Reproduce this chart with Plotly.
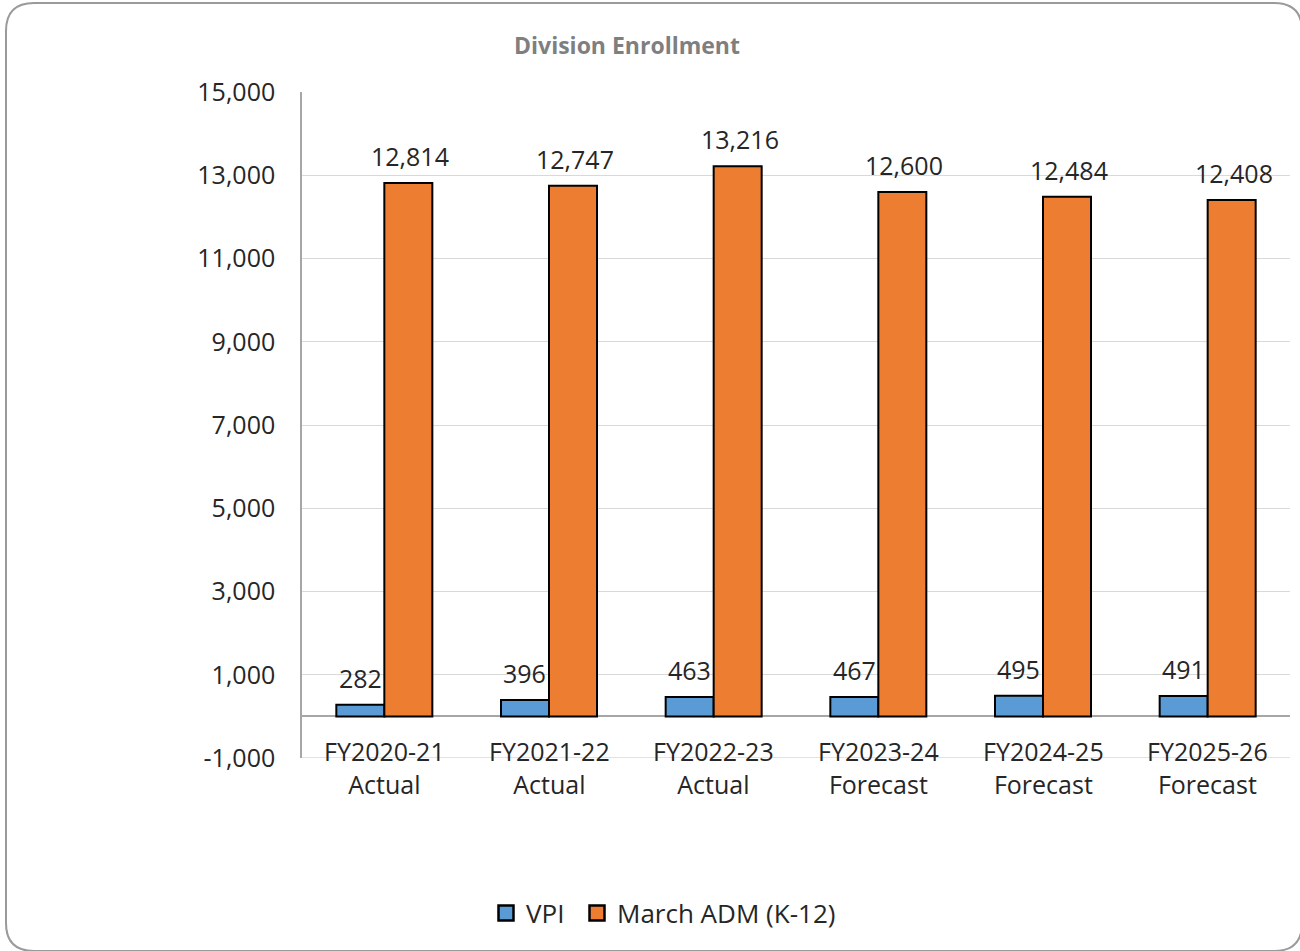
import plotly.graph_objects as go

categories = ["FY2020-21<br>Actual", "FY2021-22<br>Actual", "FY2022-23<br>Actual",
              "FY2023-24<br>Forecast", "FY2024-25<br>Forecast", "FY2025-26<br>Forecast"]
cat_keys = ["FY2020-21", "FY2021-22", "FY2022-23", "FY2023-24", "FY2024-25", "FY2025-26"]
vpi = [282, 396, 463, 467, 495, 491]
march_adm = [12814, 12747, 13216, 12600, 12484, 12408]
y_ticks = [-1000, 1000, 3000, 5000, 7000, 9000, 11000, 13000, 15000]
y_tick_text = ["-1,000", "1,000", "3,000", "5,000", "7,000", "9,000", "11,000", "13,000", "15,000"]

W, H = 1300, 951
L, R, T, B = 302, 10, 92, 193
FONT = "Open Sans"
TXT = "#262626"
FS = 25
BLUE, ORANGE = "#5B9BD5", "#ED7D31"
BARGAP = 0.417

fig = go.Figure()
fig.add_trace(go.Bar(
    name="VPI", x=cat_keys, y=vpi, showlegend=False,
    marker=dict(color=BLUE, line=dict(color="black", width=2)),
))
fig.add_trace(go.Bar(
    name="March ADM (K-12)", x=cat_keys, y=march_adm, showlegend=False,
    marker=dict(color=ORANGE, line=dict(color="black", width=2)),
))
# legend entries with larger outlined squares (one legend box each)
for name, col, lg in [("VPI", BLUE, "legend"), ("March ADM (K-12)", ORANGE, "legend2")]:
    fig.add_trace(go.Scatter(
        name=name, x=[None], y=[None], mode="markers", legend=lg,
        marker=dict(symbol="square", size=15, color=col, line=dict(color="black", width=2.5)),
    ))

pw, ph = W - L - R, H - T - B
bar_px = pw / len(cat_keys) * (1 - BARGAP) / 2

# data labels
for k, v in zip(cat_keys, vpi):
    fig.add_annotation(x=k, y=v, xref="x", yref="y", text=f"{v:,}", showarrow=False,
                       yanchor="middle", yshift=27, xshift=-bar_px / 2,
                       font=dict(family=FONT, size=FS, color=TXT))
for k, v in zip(cat_keys, march_adm):
    fig.add_annotation(x=k, y=v, xref="x", yref="y", text=f"{v:,}", showarrow=False,
                       yanchor="middle", yshift=27, xshift=bar_px / 2 + 2,
                       font=dict(family=FONT, size=FS, color=TXT))

# category labels (two lines) placed around the -1000 line like the original
for k, lab in zip(cat_keys, categories):
    fig.add_annotation(x=k, y=y_ticks[0], xref="x", yref="y", text=lab,
                       showarrow=False, yanchor="middle", yshift=-9,
                       font=dict(family=FONT, size=FS, color=TXT))

def px(x):
    return (x - L) / pw
def py(y):
    return (H - B - y) / ph

# gridline at the bottom tick
fig.add_shape(type="line", xref="paper", yref="y", x0=0, x1=1, y0=y_ticks[0], y1=y_ticks[0],
              line=dict(color="#d9d9d9", width=1.3), layer="below")

# rounded outer border
x0, x1, yt, yb, r = 6, 1302, 3, 951, 28
path = (f"M {px(x0 + r)},{py(yt)} L {px(x1 - r)},{py(yt)} "
        f"Q {px(x1)},{py(yt)} {px(x1)},{py(yt + r)} L {px(x1)},{py(yb - r)} "
        f"Q {px(x1)},{py(yb)} {px(x1 - r)},{py(yb)} L {px(x0 + r)},{py(yb)} "
        f"Q {px(x0)},{py(yb)} {px(x0)},{py(yb - r)} L {px(x0)},{py(yt + r)} "
        f"Q {px(x0)},{py(yt)} {px(x0 + r)},{py(yt)} Z")
fig.add_shape(type="path", path=path, xref="paper", yref="paper",
              line=dict(color="#9a9a9a", width=2), layer="below")

legend_style = dict(orientation="h", xanchor="left", y=py(913), yanchor="middle",
                    font=dict(family=FONT, size=26, color=TXT), itemwidth=30,
                    bgcolor="rgba(0,0,0,0)")

fig.update_layout(
    width=W, height=H, autosize=False,
    margin=dict(l=L, r=R, t=T, b=B),
    paper_bgcolor="white", plot_bgcolor="white",
    barmode="group", bargap=BARGAP, bargroupgap=0,
    title=dict(text="<b>Division Enrollment</b>", xref="container", x=627 / W, xanchor="center",
               yref="container", y=1 - 46 / H, yanchor="middle",
               font=dict(family=FONT, size=23, color="#7f7f7f")),
    showlegend=True,
    legend=dict(x=px(486), **legend_style),
    legend2=dict(x=px(577), **legend_style),
    xaxis=dict(showticklabels=False, showgrid=False, showline=False, ticks="",
               range=[-0.5, len(cat_keys) - 0.5]),
    yaxis=dict(range=[y_ticks[0], y_ticks[-1]], tickvals=y_ticks, ticktext=y_tick_text,
               showgrid=True, gridcolor="#d9d9d9", gridwidth=1.3,
               zeroline=True, zerolinecolor="#a6a6a6", zerolinewidth=1.5,
               showline=True, linecolor="#a6a6a6", linewidth=1.5,
               ticks="", ticklabelstandoff=20,
               tickfont=dict(family=FONT, size=FS, color=TXT)),
)

fig.write_html("out.html")
